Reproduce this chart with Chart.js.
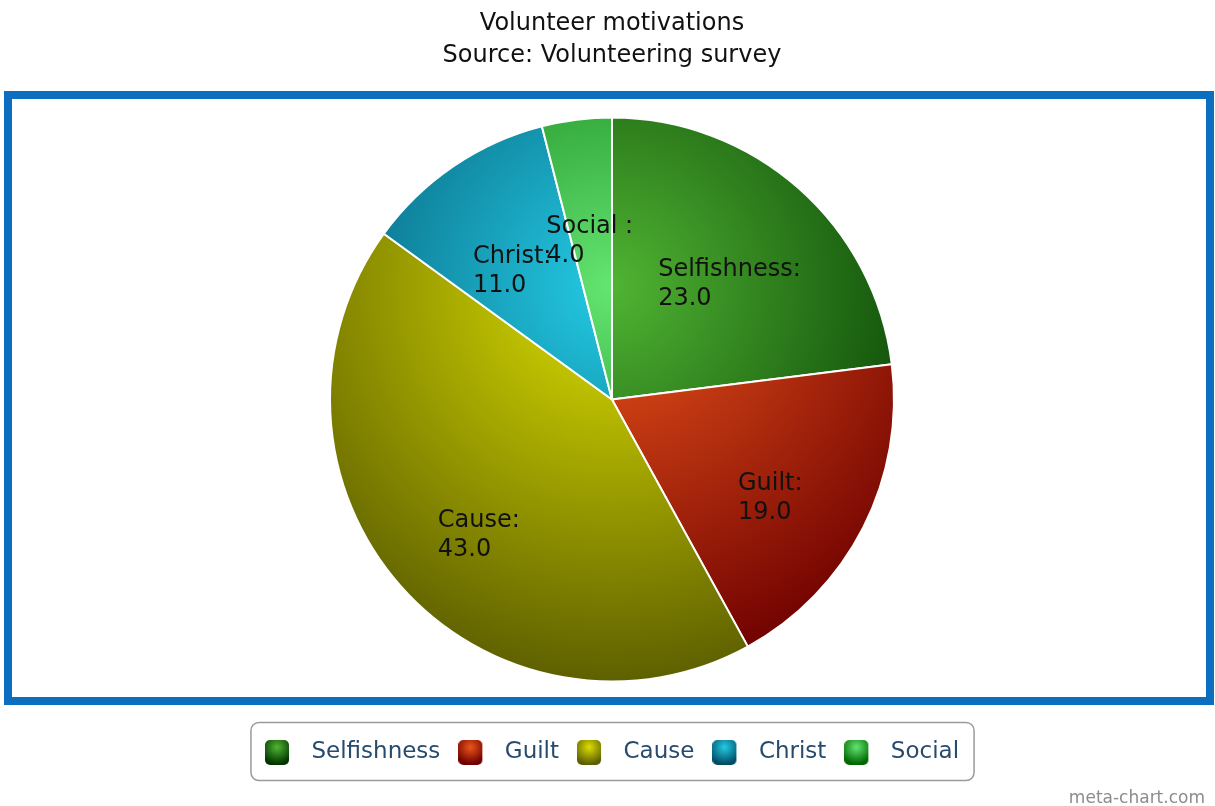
<!DOCTYPE html>
<html>
<head>
<meta charset="utf-8">
<script src="https://cdn.jsdelivr.net/npm/chart.js@4"></script>
<style>
  html, body { margin: 0; padding: 0; background: #fff; }
  #wrap { width: 1215px; height: 806px; }
</style>
</head>
<body>
<div id="wrap"><canvas id="pie"></canvas></div>
<script>
/* volunteer motivations pie */

const categories = ['Selfishness', 'Guilt', 'Cause', 'Christ', 'Social '];
const values = [23, 19, 43, 11, 4];
const baseColors = ['#50B432', '#ED561B', '#DDDF00', '#24CBE5', '#64E572'];
const titleLines = ['Volunteer motivations', 'Source: Volunteering survey'];
const watermark = 'meta-chart.com';

const PIE_R = 282;
const FONT = '"DejaVu Sans", Verdana, sans-serif';

function hexRgb(h) {
  const n = parseInt(h.slice(1), 16);
  return [n >> 16, (n >> 8) & 255, n & 255];
}

function darker(h) {
  return 'rgb(' + hexRgb(h).map(v => Math.max(0, Math.round(v - 127.5))).join(',') + ')';
}

// gradient like the old highcharts themes: cx .5, cy .3, r .7 of the box
function radial(ctx, x, y, size, color) {
  const gx = x + size * 0.5, gy = y + size * 0.3;
  const g = ctx.createRadialGradient(gx, gy, 0, gx, gy, size * 0.7);
  g.addColorStop(0, color);
  g.addColorStop(1, darker(color));
  return g;
}

function roundRectPath(ctx, x, y, w, h, r) {
  ctx.beginPath();
  ctx.moveTo(x + r, y);
  ctx.arcTo(x + w, y, x + w, y + h, r);
  ctx.arcTo(x + w, y + h, x, y + h, r);
  ctx.arcTo(x, y + h, x, y, r);
  ctx.arcTo(x, y, x + w, y, r);
  ctx.closePath();
}

function legendSwatch(color) {
  const c = document.createElement('canvas');
  c.width = 35;
  c.height = 25;
  const g = c.getContext('2d');
  g.fillStyle = radial(g, 0, 0, 24, color);
  roundRectPath(g, 0, 0, 24, 25, 5);
  g.fill();
  return c;
}

const swatches = baseColors.map(legendSwatch);

const framePlugin = {
  id: 'frame',
  beforeDraw(chart) {
    const ctx = chart.ctx;
    ctx.save();
    ctx.strokeStyle = '#0b6ebf';
    ctx.lineWidth = 8;
    ctx.strokeRect(8, 95, 1202, 606);
    ctx.restore();
  },
  afterDraw(chart) {
    const ctx = chart.ctx;
    const boxes = chart.legend.legendHitBoxes;
    const first = boxes[0], last = boxes[boxes.length - 1];
    const x0 = first.left - 14;
    const x1 = last.left + last.width + 15;
    const yc = first.top + first.height / 2;
    ctx.save();
    ctx.strokeStyle = '#9a9a9a';
    ctx.lineWidth = 1.5;
    roundRectPath(ctx, x0, yc - 30, x1 - x0, 58, 8);
    ctx.stroke();
    ctx.font = '17px ' + FONT;
    ctx.fillStyle = '#8c8c8c';
    ctx.textAlign = 'right';
    ctx.textBaseline = 'alphabetic';
    ctx.fillText(watermark, 1205, 803);
    ctx.restore();
  }
};

const sliceLabels = {
  id: 'sliceLabels',
  afterDatasetsDraw(chart) {
    const ctx = chart.ctx;
    const meta = chart.getDatasetMeta(0);
    ctx.save();
    ctx.font = '24px ' + FONT;
    ctx.fillStyle = '#111';
    ctx.textAlign = 'left';
    ctx.textBaseline = 'middle';
    meta.data.forEach((arc, i) => {
      const p = arc.getProps(['x', 'y', 'startAngle', 'endAngle', 'outerRadius']);
      const mid = (p.startAngle + p.endAngle) / 2;
      const px = p.x + Math.cos(mid) * p.outerRadius * 0.63;
      const py = p.y + Math.sin(mid) * p.outerRadius * 0.63;
      const line1 = categories[i] + ':';
      const left = px - ctx.measureText(line1).width / 2;
      ctx.fillText(line1, left, py + 4);
      ctx.fillText(values[i].toFixed(1), left, py + 33);
    });
    ctx.restore();
  }
};

new Chart(document.getElementById('pie'), {
  type: 'pie',
  data: {
    labels: categories,
    datasets: [{
      data: values,
      backgroundColor: c => {
        const area = c.chart.chartArea;
        const color = baseColors[c.dataIndex];
        if (!area) return color;
        const cx = (area.left + area.right) / 2;
        const cy = (area.top + area.bottom) / 2;
        return radial(c.chart.ctx, cx - PIE_R, cy - PIE_R, PIE_R * 2, color);
      },
      borderColor: '#ffffff',
      borderWidth: 2
    }]
  },
  options: {
    responsive: true,
    maintainAspectRatio: false,
    animation: false,
    radius: PIE_R,
    layout: { padding: { left: 9, right: 0, top: 0, bottom: 32 } },
    plugins: {
      title: {
        display: true,
        text: titleLines,
        color: '#111',
        font: { family: FONT, size: 24, weight: 'normal', lineHeight: 32 / 24 },
        padding: { top: 8, bottom: 4 }
      },
      legend: {
        position: 'bottom',
        labels: {
          usePointStyle: true,
          pointStyleWidth: 35,
          padding: 18,
          color: '#274b6d',
          font: { family: FONT, size: 23 },
          generateLabels: () => categories.map((name, i) => ({
            text: name.trim(),
            fillStyle: baseColors[i],
            strokeStyle: 'transparent',
            lineWidth: 0,
            pointStyle: swatches[i],
            fontColor: '#274b6d',
            hidden: false,
            index: i
          }))
        }
      },
      tooltip: { enabled: false }
    }
  },
  plugins: [framePlugin, sliceLabels]
});
</script>
</body>
</html>
